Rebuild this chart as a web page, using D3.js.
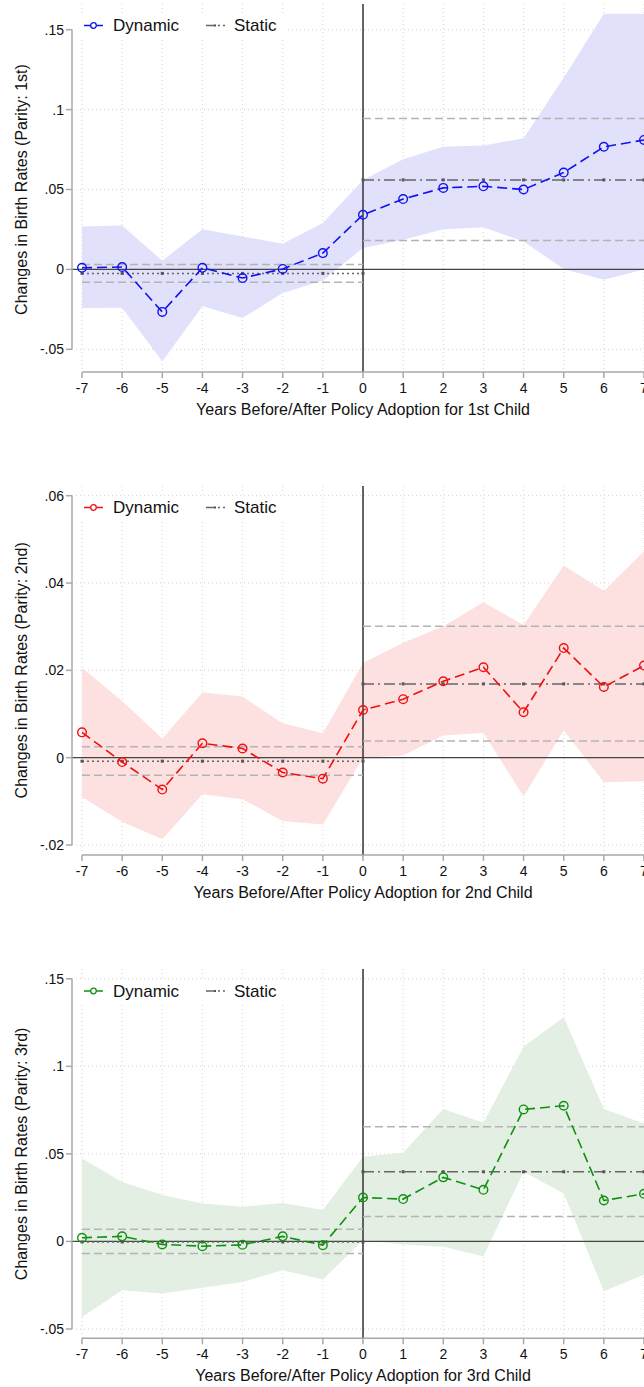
<!DOCTYPE html>
<html lang='en'>
<head>
    <meta charset='UTF-8'>
    <title>Event study: birth rates by parity</title>
    <script src='https://cdnjs.cloudflare.com/ajax/libs/d3/7.8.5/d3.min.js'></script>
    <style>
        body { margin: 0; background: #fff; }
        svg { display: block; font-family: 'Liberation Sans', Arial, sans-serif; }
    </style>
</head>
<body>
    <div id='anchor'></div>
    <script>
        // event time
        const years = [-7, -6, -5, -4, -3, -2, -1, 0, 1, 2, 3, 4, 5, 6, 7];

        // parity 1
        const est1 = [0.001, 0.0015, -0.0266, 0.001, -0.0054, 0.0003, 0.0102, 0.0342, 0.044, 0.051, 0.052, 0.050, 0.0606, 0.0767, 0.081];
        const lo1 = [-0.0241, -0.024, -0.0575, -0.0231, -0.0304, -0.0148, -0.007, 0.0134, 0.0186, 0.0252, 0.0263, 0.0175, 0.0002, -0.0064, 0.0];
        const hi1 = [0.0269, 0.0275, 0.0054, 0.0252, 0.0206, 0.016, 0.029, 0.056, 0.069, 0.0767, 0.0775, 0.082, 0.12, 0.16, 0.16];
        const staticPre1 = [-0.0025, -0.008, 0.003];   // estimate, lower, upper
        const staticPost1 = [0.056, 0.0181, 0.0944];
        const yTicks1 = [-0.05, 0, 0.05, 0.1, 0.15];

        // parity 2
        const est2 = [0.0058, -0.001, -0.0073, 0.0033, 0.0021, -0.0034, -0.0048, 0.0109, 0.0134, 0.0175, 0.0207, 0.0104, 0.0251, 0.0162, 0.0211];
        const lo2 = [-0.009, -0.0147, -0.0187, -0.0084, -0.0095, -0.0145, -0.0153, 0.0, 0.0005, 0.0051, 0.0057, -0.0089, 0.0063, -0.0056, -0.0054];
        const hi2 = [0.0206, 0.013, 0.0044, 0.0149, 0.014, 0.0079, 0.0056, 0.0217, 0.0263, 0.0301, 0.0356, 0.0304, 0.044, 0.0382, 0.0473];
        const staticPre2 = [-0.0008, -0.004, 0.0025];
        const staticPost2 = [0.0169, 0.0038, 0.0301];
        const yTicks2 = [-0.02, 0, 0.02, 0.04, 0.06];

        // parity 3
        const est3 = [0.0021, 0.0029, -0.0017, -0.0027, -0.0019, 0.0029, -0.0021, 0.0251, 0.0242, 0.0366, 0.0295, 0.0754, 0.0775, 0.0234, 0.0272];
        const lo3 = [-0.0431, -0.0278, -0.0297, -0.0265, -0.0231, -0.0164, -0.0217, 0.0007, -0.0017, -0.003, -0.0084, 0.0398, 0.0274, -0.0284, -0.019];
        const hi3 = [0.0474, 0.034, 0.0265, 0.0217, 0.0198, 0.022, 0.0179, 0.0484, 0.0506, 0.0756, 0.0678, 0.1112, 0.128, 0.0756, 0.0674];
        const staticPre3 = [-0.0003, -0.0069, 0.0069];
        const staticPost3 = [0.0398, 0.0143, 0.0655];
        const yTicks3 = [-0.05, 0, 0.05, 0.1, 0.15];

        // Stata-style labels: .05, -.05, 0
        const tickFmt = v => v === 0 ? '0' : String(v).replace('0.', '.');

        const panels = [
            {est: est1, lo: lo1, hi: hi1, pre: staticPre1, post: staticPost1, ticks: yTicks1,
             top: 4, yTop: 29.7, yBot: 349.3, axisY: 372, legendY: 25.5,
             color: '#1010f0', fill: '#e1e1fc', ytitle: 'Changes in Birth Rates (Parity: 1st)',
             xtitle: 'Years Before/After Policy Adoption for 1st Child'},
            {est: est2, lo: lo2, hi: hi2, pre: staticPre2, post: staticPost2, ticks: yTicks2,
             top: 486, yTop: 495.7, yBot: 845, axisY: 855, legendY: 507.5,
             color: '#f01010', fill: '#fde1e1', ytitle: 'Changes in Birth Rates (Parity: 2nd)',
             xtitle: 'Years Before/After Policy Adoption for 2nd Child'},
            {est: est3, lo: lo3, hi: hi3, pre: staticPre3, post: staticPost3, ticks: yTicks3,
             top: 969, yTop: 978.8, yBot: 1329, axisY: 1338.3, legendY: 991,
             color: '#109010', fill: '#e2efe2', ytitle: 'Changes in Birth Rates (Parity: 3rd)',
             xtitle: 'Years Before/After Policy Adoption for 3rd Child'}
        ];

        const W = 644, H = 1387;
        const axisX = 72;
        const x = d3.scaleLinear().domain([-7, 7]).range([82, 644]);

        const svg = d3.select('#anchor').append('svg')
            .attr('width', W).attr('height', H);

        panels.forEach(p => {
            const ticks = p.ticks;
            const y = d3.scaleLinear().domain([ticks[0], ticks[ticks.length - 1]]).range([p.yBot, p.yTop]);
            const g = svg.append('g');
            const rows = years.map((yr, i) => ({yr, est: p.est[i], lo: p.lo[i], hi: p.hi[i]}));

            // grid
            g.append('g').selectAll('line').data(years).join('line')
                .attr('x1', d => x(d)).attr('x2', d => x(d))
                .attr('y1', p.top).attr('y2', p.axisY)
                .attr('stroke', '#d4d4d4').attr('stroke-dasharray', '1,3');
            g.append('g').selectAll('line').data(ticks).join('line')
                .attr('x1', axisX).attr('x2', W)
                .attr('y1', d => y(d)).attr('y2', d => y(d))
                .attr('stroke', '#d4d4d4').attr('stroke-dasharray', '1,3');

            // confidence band
            g.append('path').datum(rows)
                .attr('fill', p.fill)
                .attr('d', d3.area().x(d => x(d.yr)).y0(d => y(d.lo)).y1(d => y(d.hi)));

            // reference lines
            g.append('line')
                .attr('x1', axisX).attr('x2', W).attr('y1', y(0)).attr('y2', y(0))
                .attr('stroke', '#444').attr('stroke-width', 1.2);
            g.append('line')
                .attr('x1', x(0)).attr('x2', x(0)).attr('y1', p.top).attr('y2', p.axisY)
                .attr('stroke', '#333').attr('stroke-width', 1.5);

            // static estimates
            const seg = [
                {from: -7, to: 0, vals: p.pre, dash: '2,3'},
                {from: 0, to: 7, vals: p.post, dash: '11,4,2,4'}
            ];
            seg.forEach(s => {
                const xEnd = x(s.to) + (s.to === 7 ? 20 : 0);
                [s.vals[1], s.vals[2]].forEach(v => {
                    g.append('line')
                        .attr('x1', x(s.from)).attr('x2', xEnd)
                        .attr('y1', y(v)).attr('y2', y(v))
                        .attr('stroke', '#b4b4b4').attr('stroke-width', 1.5)
                        .attr('stroke-dasharray', '8,4');
                });
                g.append('line')
                    .attr('x1', x(s.from)).attr('x2', xEnd)
                    .attr('y1', y(s.vals[0])).attr('y2', y(s.vals[0]))
                    .attr('stroke', '#666').attr('stroke-width', 1.5)
                    .attr('stroke-dasharray', s.dash);
                const pts = years.filter(d => d >= s.from && d <= s.to);
                g.append('g').selectAll('rect').data(pts).join('rect')
                    .attr('x', d => x(d) - 1.5).attr('y', y(s.vals[0]) - 1.5)
                    .attr('width', 3).attr('height', 3)
                    .attr('fill', '#555');
            });

            // dynamic estimates
            g.append('path').datum(rows)
                .attr('fill', 'none').attr('stroke', p.color).attr('stroke-width', 1.6)
                .attr('stroke-dasharray', '10,5')
                .attr('d', d3.line().x(d => x(d.yr)).y(d => y(d.est)));
            g.append('g').selectAll('circle').data(rows).join('circle')
                .attr('cx', d => x(d.yr)).attr('cy', d => y(d.est)).attr('r', 4.3)
                .attr('fill', 'none').attr('stroke', p.color).attr('stroke-width', 1.4);

            // y axis
            g.append('line')
                .attr('x1', axisX).attr('x2', axisX).attr('y1', p.yTop).attr('y2', p.yBot)
                .attr('stroke', '#a8a8a8').attr('stroke-width', 1.5);
            const yt = g.append('g').selectAll('g').data(ticks).join('g')
                .attr('transform', d => `translate(0,${y(d)})`);
            yt.append('line').attr('x1', axisX - 6).attr('x2', axisX)
                .attr('stroke', '#a8a8a8').attr('stroke-width', 1.5);
            yt.append('text').attr('x', axisX - 8).attr('dy', '0.35em')
                .attr('text-anchor', 'end').attr('font-size', 14).attr('fill', '#111')
                .text(d => tickFmt(d));

            // x axis
            g.append('line')
                .attr('x1', x(-7)).attr('x2', W).attr('y1', p.axisY).attr('y2', p.axisY)
                .attr('stroke', '#a8a8a8').attr('stroke-width', 1.5);
            const xt = g.append('g').selectAll('g').data(years).join('g')
                .attr('transform', d => `translate(${x(d)},${p.axisY})`);
            xt.append('line').attr('y1', 0).attr('y2', 6)
                .attr('stroke', '#a8a8a8').attr('stroke-width', 1.5);
            xt.append('text').attr('y', 16).attr('dy', '0.35em')
                .attr('text-anchor', 'middle').attr('font-size', 14).attr('fill', '#111')
                .text(d => String(d));

            // titles
            g.append('text')
                .attr('x', x(0)).attr('y', p.axisY + 37).attr('dy', '0.35em')
                .attr('text-anchor', 'middle').attr('font-size', 16).attr('fill', '#111')
                .text(p.xtitle);
            g.append('text')
                .attr('transform', `translate(21,${(p.yTop + p.yBot) / 2}) rotate(-90)`)
                .attr('dy', '0.35em')
                .attr('text-anchor', 'middle').attr('font-size', 16).attr('fill', '#111')
                .text(p.ytitle);

            // legend
            const lg = g.append('g').attr('transform', `translate(0,${p.legendY})`);
            lg.append('rect').attr('x', 76).attr('y', -11).attr('width', 210).attr('height', 22)
                .attr('fill', '#fff');
            lg.append('line').attr('x1', 84).attr('x2', 103)
                .attr('stroke', p.color).attr('stroke-width', 1.5);
            lg.append('circle').attr('cx', 93.5).attr('r', 2.8)
                .attr('fill', '#fff').attr('stroke', p.color).attr('stroke-width', 1.3);
            lg.append('text').attr('x', 113).attr('dy', '0.35em')
                .attr('font-size', 17).attr('fill', '#111').text('Dynamic');
            lg.append('line').attr('x1', 206).attr('x2', 225)
                .attr('stroke', '#666').attr('stroke-width', 1.5)
                .attr('stroke-dasharray', '9,3,2,3');
            lg.append('rect').attr('x', 214).attr('y', -1).attr('width', 2).attr('height', 2)
                .attr('fill', '#555');
            lg.append('text').attr('x', 234).attr('dy', '0.35em')
                .attr('font-size', 17).attr('fill', '#111').text('Static');
        });
    </script>
</body>
</html>
